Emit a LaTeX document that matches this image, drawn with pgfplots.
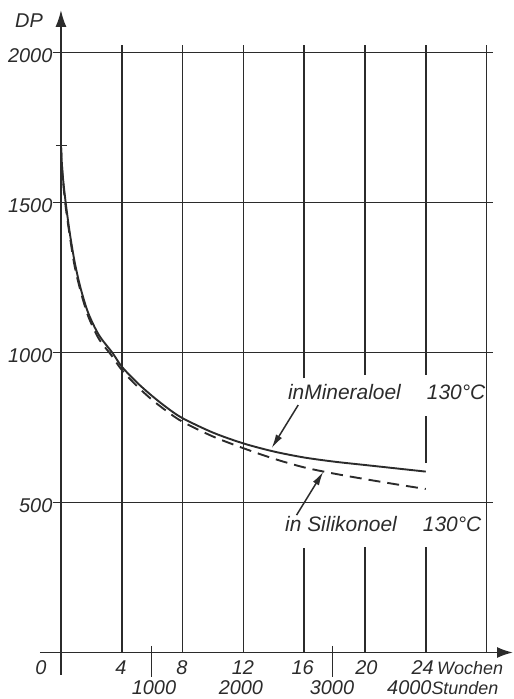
\documentclass[border=0pt]{standalone}
\usepackage{fontspec}
\setmainfont{Liberation Sans}
\usepackage{pgfplots}
\pgfplotsset{compat=1.18}
\usetikzlibrary{arrows.meta}
\definecolor{ink}{gray}{0.17}
\pgfplotstableread{
wk DP
0 1690
0.1 1600
0.31 1500
0.6 1392
0.92 1297
1.3 1213
1.8 1131
2.5 1058
3.4 998
4 953
5 900
6 855
7 815
8 781
10 733
12 697
14 670
16 650
18 636
20 625
22 614
24 603
}\mineral
\pgfplotstableread{
wk DP
0 1690
0.1 1595
0.3 1490
0.6 1382
0.9 1288
1.3 1203
1.8 1120
2.5 1045
3.3 992
4 942
5 888
6 842
7 803
8 769
10 720
12 681
14 646
16 617
18 596
20 578
22 561
24 545
}\silikon
\begin{document}
\begin{tikzpicture}
\begin{axis}[x=15.2bp, y=0.3bp, xmin=-4.01, xmax=29.74, ymin=-155, ymax=2175,
  hide axis, clip=false]
\path (axis cs:-4.01,-155) rectangle (axis cs:29.74,2175);
% horizontal grid
\draw[ink, line width=1.6bp] (axis cs:-0.53,500) -- (axis cs:28.4,500);
\draw[ink, line width=1.6bp] (axis cs:-0.53,1000) -- (axis cs:28.4,1000);
\draw[ink, line width=1.6bp] (axis cs:-0.53,1500) -- (axis cs:28.4,1500);
\draw[ink, line width=1.6bp] (axis cs:-0.53,2000) -- (axis cs:28.4,2000);
% vertical grid
\draw[ink, line width=1.6bp] (axis cs:4,0) -- (axis cs:4,2024);
\draw[ink, line width=1.6bp] (axis cs:8,0) -- (axis cs:8,2024);
\draw[ink, line width=1.6bp] (axis cs:12,0) -- (axis cs:12,2024);
\draw[ink, line width=1.6bp] (axis cs:28,0) -- (axis cs:28,2024);
\draw[ink, line width=1.6bp] (axis cs:16,0) -- (axis cs:16,347);
\draw[ink, line width=1.6bp] (axis cs:16,914) -- (axis cs:16,2024);
\draw[ink, line width=1.6bp] (axis cs:20,0) -- (axis cs:20,353);
\draw[ink, line width=1.6bp] (axis cs:20,925) -- (axis cs:20,2024);
\draw[ink, line width=1.6bp] (axis cs:24,0) -- (axis cs:24,353);
\draw[ink, line width=1.6bp] (axis cs:24,631) -- (axis cs:24,788);
\draw[ink, line width=1.6bp] (axis cs:24,925) -- (axis cs:24,2024);
% axes
\draw[ink, line width=1.9bp, -{Latex[length=17bp,width=11bp]}] (axis cs:0,-75) -- (axis cs:0,2142);
\draw[ink, line width=1.9bp, -{Latex[length=16bp,width=11bp]}] (axis cs:-1.38,0) -- (axis cs:29.74,0);
\draw[ink, line width=1.6bp] (axis cs:-0.33,1690) -- (axis cs:0.39,1690);
\draw[ink, line width=1.6bp] (axis cs:5.95,22) -- (axis cs:5.95,-82);
\draw[ink, line width=1.6bp] (axis cs:17.86,22) -- (axis cs:17.86,-82);
% curves
\addplot[ink, line width=1.9bp, smooth, tension=0.5] table[x=wk,y=DP] {\mineral};
\addplot[ink, line width=1.9bp, smooth, tension=0.5, dash pattern=on 12bp off 7bp] table[x=wk,y=DP] {\silikon};
% labels
\begin{scope}[every node/.style={ink, font=\fontsize{20}{24}\selectfont\itshape, inner sep=0pt}]
\node[anchor=east] at (axis cs:-0.55,1990) {2000};
\node[anchor=east] at (axis cs:-0.55,1490) {1500};
\node[anchor=east] at (axis cs:-0.55,990) {1000};
\node[anchor=east] at (axis cs:-0.55,490) {500};
\node[anchor=base] at (axis cs:-1.32,-75) {0};
\node[anchor=base] at (axis cs:3.95,-75) {4};
\node[anchor=base] at (axis cs:7.96,-75) {8};
\node[anchor=base] at (axis cs:11.97,-75) {12};
\node[anchor=base] at (axis cs:15.9,-75) {16};
\node[anchor=base] at (axis cs:20.1,-75) {20};
\node[anchor=base] at (axis cs:23.8,-75) {24};
\node[anchor=base west, font=\fontsize{18}{22}\selectfont\itshape] at (axis cs:24.74,-75) {Wochen};
\node[anchor=base] at (axis cs:6.12,-141) {1000};
\node[anchor=base] at (axis cs:11.84,-141) {2000};
\node[anchor=base] at (axis cs:17.83,-141) {3000};
\node[anchor=base west] at (axis cs:21.45,-141) {4000\fontsize{18}{22}\selectfont Stunden};
\node[anchor=center, font=\fontsize{20}{24}\selectfont\itshape] at (axis cs:-2.1,2105) {DP};
\node[anchor=base west, font=\fontsize{21}{24}\selectfont\itshape] at (axis cs:14.93,842) {inMineraloel};
\node[anchor=base west, font=\fontsize{21}{24}\selectfont\itshape] at (axis cs:24.06,842) {130°C};
\node[anchor=base west, font=\fontsize{21}{24}\selectfont\itshape] at (axis cs:14.74,403) {in Silikonoel};
\node[anchor=base west, font=\fontsize{21}{24}\selectfont\itshape] at (axis cs:23.8,403) {130°C};
\end{scope}
% annotation arrows
\draw[ink, line width=1.5bp, -{Latex[length=14bp,width=7bp]}] (axis cs:15.61,825) -- (axis cs:13.86,681);
\draw[ink, line width=1.5bp, -{Latex[length=14bp,width=7bp]}] (axis cs:15.5,458) -- (axis cs:17.26,603);
\end{axis}
\end{tikzpicture}
\end{document}
